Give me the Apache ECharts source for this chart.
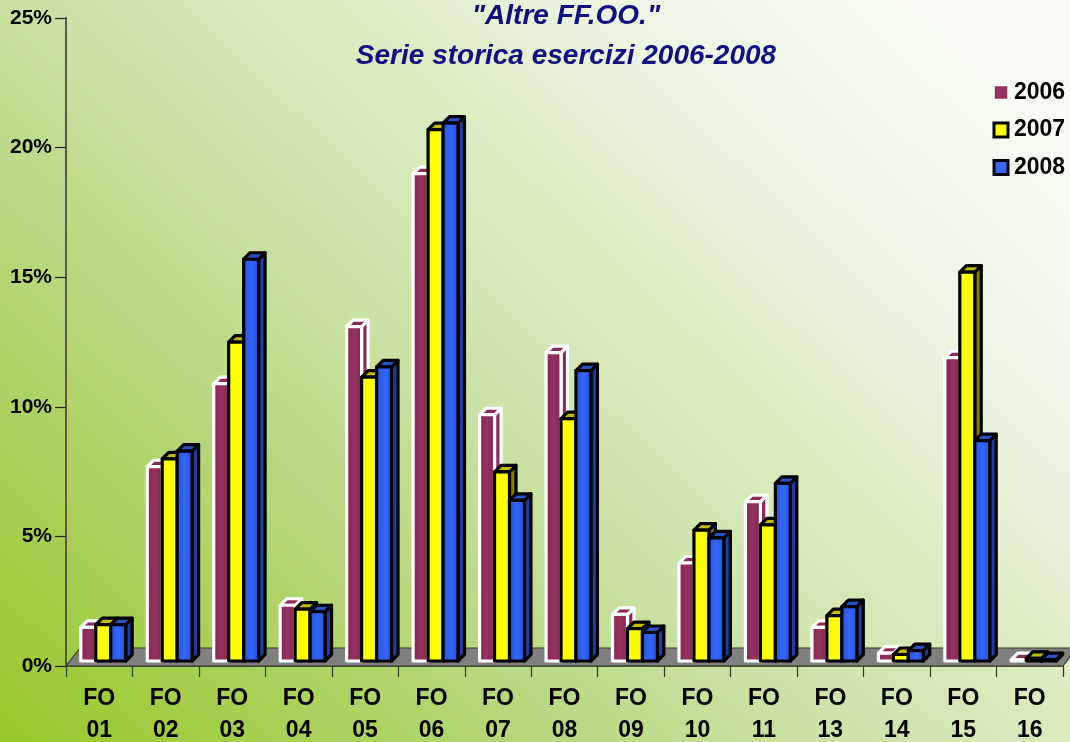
<!DOCTYPE html>
<html><head><meta charset="utf-8">
<style>html,body{margin:0;padding:0;background:#fff}#c{width:1070px;height:742px}</style>
<script src="https://cdn.jsdelivr.net/npm/echarts@6/dist/echarts.min.js"></script>
</head><body><div id="c"></div>
<script>
const categories = ['FO\n01','FO\n02','FO\n03','FO\n04','FO\n05','FO\n06','FO\n07','FO\n08','FO\n09','FO\n10','FO\n11','FO\n13','FO\n14','FO\n15','FO\n16'];
const years = ['2006','2007','2008'];
const values2006 = [1.3,7.5,10.7,2.15,12.9,18.8,9.5,11.9,1.8,3.78,6.15,1.3,0.3,11.7,0.05];
const values2007 = [1.4,7.8,12.3,2.0,10.95,20.5,7.3,9.35,1.25,5.05,5.25,1.75,0.25,15.0,0.1];
const values2008 = [1.4,8.1,15.5,1.9,11.35,20.75,6.2,11.2,1.1,4.75,6.85,2.1,0.4,8.5,0.05];
const yTicks = {min:0,max:25,interval:5};

const FONT = '"Liberation Sans", Arial, sans-serif';
const looks = [
  {edge:'#ffffff', mid:'#96305f', side:'#8a2a58', rim:'#7e2651', top:'#8a2a58', width:3.2, legendBorder:1.5},
  {edge:'#000000', mid:'#ffff00', side:'#7f7f00', rim:'#ffff00', top:'#c2bc00', width:3.2, legendBorder:3},
  {edge:'#000000', mid:'#3366ff', side:'#1f3c9e', rim:'#2450d0', top:'#2a52c8', width:3.2, legendBorder:3}
];
function grad(l){
  return new echarts.graphic.LinearGradient(0,0,1,0,[
    {offset:0,color:l.rim},{offset:0.5,color:l.mid},{offset:1,color:l.rim}]);
}
function barRender(si){
  const l = looks[si];
  return function(params, api){
    const idx = api.value(0), v = api.value(1);
    const band = api.size([1,0])[0];
    const w = band*0.225, dx = band*0.06, dy = -5, d = 6.5;
    const p0 = api.coord([idx,0]), p1 = api.coord([idx,v]);
    const x = p0[0]+dx+(si-1.5)*w, yb = p0[1]+dy, yt = p1[1]+dy;
    const base = {stroke:l.edge, lineWidth:l.width, lineJoin:'round'};
    return {type:'group',children:[
      {type:'polygon',shape:{points:[[x+w,yt],[x+w+d,yt-d],[x+w+d,yb-d],[x+w,yb]]},style:Object.assign({fill:l.side},base)},
      {type:'polygon',shape:{points:[[x,yt],[x+d,yt-d],[x+w+d,yt-d],[x+w,yt]]},style:Object.assign({fill:l.top},base)},
      {type:'rect',shape:{x:x,y:yt,width:w,height:yb-yt},style:Object.assign({fill:grad(l)},base)}
    ]};
  };
}
function floorRender(params, api){
  const band = api.size([1,0])[0];
  const a = api.coord([0,0]), b = api.coord([categories.length-1,0]);
  const xl = a[0]-band/2, xr = b[0]+band/2, y = a[1];
  return {type:'polygon',shape:{points:[[xl,y],[xl+14,y-18],[xr+14,y-18],[xr,y]]},
    style:{fill:'#808080',stroke:'#333a22',lineWidth:1.2}};
}
const seriesValues = [values2006,values2007,values2008];
const chart = echarts.init(document.getElementById('c'),null,{renderer:'canvas'});
chart.setOption({
  animation:false,
  backgroundColor:new echarts.graphic.LinearGradient(0,1,0.748,-0.135,[
    {offset:0,color:'#96c828'},{offset:0.35,color:'#b9d983'},{offset:0.5,color:'#cce3a8'},{offset:0.65,color:'#dcebc0'},{offset:0.8,color:'#ecf4e0'},{offset:1,color:'#f7fbf3'}]),
  title:{text:'"Altre FF.OO."\nSerie storica esercizi 2006-2008',left:561,top:-9,textAlign:'center',
    textStyle:{fontFamily:FONT,fontSize:28,fontWeight:'bold',fontStyle:'italic',color:'#10107f',lineHeight:40}},
  legend:{orient:'vertical',left:987.5,top:76,itemWidth:14,itemHeight:14,itemGap:14.5,selectedMode:false,
    textStyle:{fontFamily:FONT,fontSize:23,fontWeight:'bold',color:'#000',padding:[0,0,0,1]},
    data:years.map((y,i)=>({name:y,icon:'rect',itemStyle:{color:looks[i].mid,borderColor:looks[i].edge,borderWidth:looks[i].legendBorder}}))},
  tooltip:{show:false},
  grid:{left:66,right:7,top:18,bottom:76,containLabel:false,outerBoundsMode:'none'},
  xAxis:{type:'category',data:categories,boundaryGap:true,
    axisLine:{lineStyle:{color:'#333a22',width:1.5}},
    axisTick:{show:true,length:11,lineStyle:{color:'#333a22',width:1.2}},
    axisLabel:{interval:0,fontFamily:FONT,fontSize:23,fontWeight:'bold',color:'#000',lineHeight:32,margin:17}},
  yAxis:{type:'value',min:yTicks.min,max:yTicks.max,interval:yTicks.interval,
    splitLine:{show:false},
    axisLine:{show:true,lineStyle:{color:'#4a4f40',width:1.8}},
    axisTick:{show:true,length:11,lineStyle:{color:'#222',width:1.2}},
    axisLabel:{fontFamily:FONT,fontSize:21,fontWeight:'bold',color:'#000',margin:14,formatter:'{value}%'}},
  series:[{type:'custom',name:'floor',z:1,silent:true,renderItem:floorRender,data:[[0,0]],encode:{x:0,y:1}}]
    .concat(years.map((y,i)=>({type:'custom',name:y,z:2+i,silent:true,clip:false,
      itemStyle:{color:looks[i].mid},renderItem:barRender(i),encode:{x:0,y:1},
      data:seriesValues[i].map((v,k)=>[k,v])})))
});
</script></body></html>
